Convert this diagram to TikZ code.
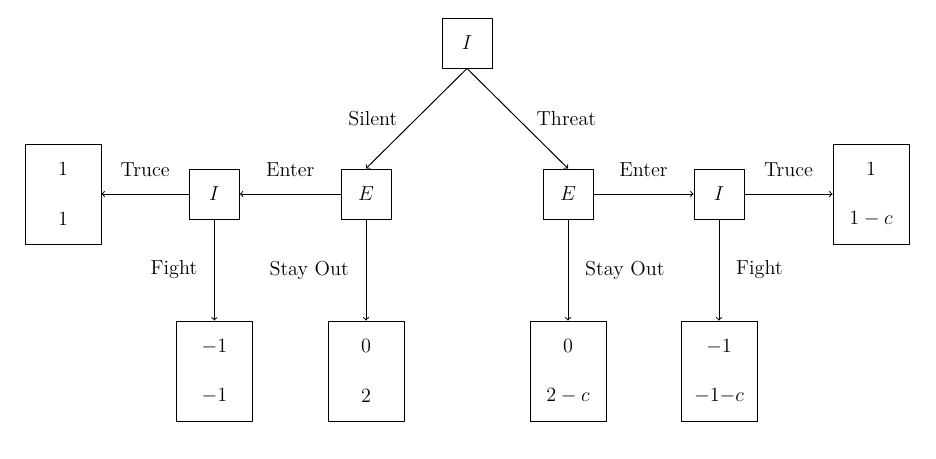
\documentclass[tikz,border=0pt]{standalone}
\usetikzlibrary{positioning}

\tikzset{
	dec/.style={draw, minimum size=1.25cm, inner sep=0pt},
	payoff/.style={draw, minimum width=1.9cm, minimum height=2.5cm, align=center, inner sep=0pt},
}

\begin{document}
\begin{tikzpicture}[font=\Large, line width=0.7pt, >=to]
		\useasboundingbox (0,0) rectangle (23.4,11.45);
		
		%decision nodes
		\node[dec] (I0) at (11.675, 10.375){$I$};
		\node[dec] (E1) at (9.15, 6.6){$E$};
		\node[dec] (E2) at (14.2, 6.6){$E$};
		\node[dec] (I1) at (5.36, 6.6){$I$};
		\node[dec] (I2) at (17.975, 6.6){$I$};
		
		%payoffs
		\node[payoff] (pTruceL) at (1.575, 6.6){$1$\\[0.6cm]$1$};
		\node[payoff] (pTruceR) at (21.775, 6.6){$1$\\[0.6cm]$1-c$};
		\node[payoff] (pFightL) at (5.36, 2.175){$-1$\\[0.6cm]$-1$};
		\node[payoff] (pOutL) at (9.15, 2.175){$0$\\[0.6cm]$2$};
		\node[payoff] (pOutR) at (14.2, 2.175){$0$\\[0.6cm]$2-c$};
		\node[payoff] (pFightR) at (17.975, 2.175){$-1$\\[0.6cm]$-1{-}c$};
		
		%moves
		\draw[->] (I0.south) -- node[left=0.35cm] (lSilent){Silent} (E1.north);
		\draw[->] (I0.south) -- node[right=0.35cm] (lThreat){Threat} (E2.north);
		\draw[->] (E1) -- node[above=0.3cm] (lEnterL){Enter} (I1);
		\draw[->] (E2) -- node[above=0.3cm] (lEnterR){Enter} (I2);
		\draw[->] (I1) -- node[above=0.3cm] (lTruceL){Truce} (pTruceL);
		\draw[->] (I2) -- node[above=0.3cm] (lTruceR){Truce} (pTruceR);
		\draw[->] (I1) -- node[left=0.3cm] (lFightL){Fight} (pFightL);
		\draw[->] (E1) -- node[left=0.3cm] (lOutL){Stay Out} (pOutL);
		\draw[->] (E2) -- node[right=0.3cm] (lOutR){Stay Out} (pOutR);
		\draw[->] (I2) -- node[right=0.3cm] (lFightR){Fight} (pFightR);
\end{tikzpicture}
\end{document}
